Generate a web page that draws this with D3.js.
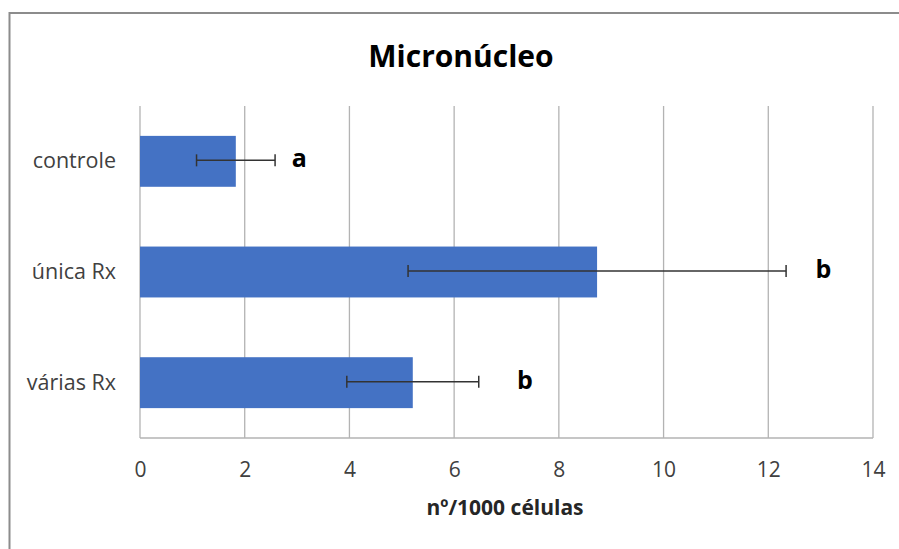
<!DOCTYPE html>
<html>
<head>
<meta charset="utf-8">
<script src="https://cdn.jsdelivr.net/npm/d3@7"></script>
<style>
  body { margin: 0; background: #fff; }
  svg { display: block; }
  text { font-family: "Open Sans", sans-serif; }
</style>
</head>
<body>
<div id="chart"></div>
<script>
// data
var categories = ["controle", "única Rx", "várias Rx"];
var means      = [1.83, 8.73, 5.21];
var errors     = [0.75, 3.61, 1.26];
var letters    = ["a", "b", "b"];
var letterAt   = [2.9, 12.9, 7.2];   // where each letter sits, in x units
var xTicks     = [0, 2, 4, 6, 8, 10, 12, 14];

var width = 899, height = 549;
var margin = {top: 106, right: 26, bottom: 111, left: 140};
var innerW = width - margin.left - margin.right;
var innerH = height - margin.top - margin.bottom;

var svg = d3.select("#chart").append("svg")
	.attr("width", width)
	.attr("height", height);

// chart frame (only top and left visible in picture)
svg.append("rect")
	.attr("x", 9.5).attr("y", 13)
	.attr("width", 920).attr("height", 560)
	.attr("fill", "none")
	.attr("stroke", "#8c8c8c")
	.attr("stroke-width", 2);

svg.append("text")
	.attr("x", 461).attr("y", 67)
	.attr("text-anchor", "middle")
	.style("font-size", "30px")
	.style("font-weight", "bold")
	.attr("fill", "#000")
	.text("Micronúcleo");

var g = svg.append("g").attr("transform", "translate(" + margin.left + "," + margin.top + ")");

var x = d3.scaleLinear().domain([0, 14]).range([0, innerW]);
var y = d3.scaleBand().domain(categories).range([0, innerH]).paddingInner(0.54).paddingOuter(0.27);

// gridlines
g.selectAll(".grid")
	.data(xTicks)
	.enter().append("line")
		.attr("class", "grid")
		.attr("x1", function(d){ return x(d); })
		.attr("x2", function(d){ return x(d); })
		.attr("y1", 0)
		.attr("y2", innerH)
		.attr("stroke", "#b3b3b3")
		.attr("stroke-width", 1.3);

// bottom axis line
g.append("line")
	.attr("x1", 0).attr("x2", innerW)
	.attr("y1", innerH).attr("y2", innerH)
	.attr("stroke", "#b3b3b3")
	.attr("stroke-width", 1.5);

var rows = categories.map(function(c, i){
	return { name: c, value: means[i], err: errors[i], letter: letters[i], lx: letterAt[i] };
});

// bars
g.selectAll(".bar")
	.data(rows)
	.enter().append("rect")
		.attr("class", "bar")
		.attr("x", 0)
		.attr("y", function(d){ return y(d.name); })
		.attr("width", function(d){ return x(d.value); })
		.attr("height", y.bandwidth())
		.attr("fill", "#4472c4");

// error bars
var eb = g.selectAll(".err")
	.data(rows)
	.enter().append("g")
		.attr("class", "err")
		.attr("transform", function(d){ return "translate(0," + (y(d.name) + y.bandwidth() / 2 - 1) + ")"; });

eb.append("line")
	.attr("x1", function(d){ return x(d.value - d.err); })
	.attr("x2", function(d){ return x(d.value + d.err); })
	.attr("stroke", "#333")
	.attr("stroke-width", 1.5);
eb.append("line")
	.attr("x1", function(d){ return x(d.value - d.err); })
	.attr("x2", function(d){ return x(d.value - d.err); })
	.attr("y1", -6).attr("y2", 6)
	.attr("stroke", "#333")
	.attr("stroke-width", 1.5);
eb.append("line")
	.attr("x1", function(d){ return x(d.value + d.err); })
	.attr("x2", function(d){ return x(d.value + d.err); })
	.attr("y1", -6).attr("y2", 6)
	.attr("stroke", "#333")
	.attr("stroke-width", 1.5);

// significance letters
eb.append("text")
	.attr("x", function(d){ return x(d.lx); })
	.attr("y", 7)
	.style("font-size", "25px")
	.style("font-weight", "bold")
	.attr("fill", "#000")
	.text(function(d){ return d.letter; });

// category labels
g.selectAll(".cat")
	.data(rows)
	.enter().append("text")
		.attr("class", "cat")
		.attr("x", -24)
		.attr("y", function(d){ return y(d.name) + y.bandwidth() / 2 + 7; })
		.attr("text-anchor", "end")
		.style("font-size", "21.5px")
		.attr("fill", "#404040")
		.text(function(d){ return d.name; });

// x axis labels
var xAxis = d3.axisBottom(x).tickValues(xTicks).tickSize(0).tickPadding(24);
var ax = g.append("g").attr("transform", "translate(0," + innerH + ")").call(xAxis);
ax.select(".domain").remove();
ax.selectAll("text")
	.style("font-size", "21px")
	.style("font-family", "'Open Sans', sans-serif")
	.attr("fill", "#404040");

svg.append("text")
	.attr("x", 505).attr("y", 515)
	.attr("text-anchor", "middle")
	.style("font-size", "21px")
	.style("font-weight", "bold")
	.attr("fill", "#262626")
	.text("nº/1000 células");
</script>
</body>
</html>
